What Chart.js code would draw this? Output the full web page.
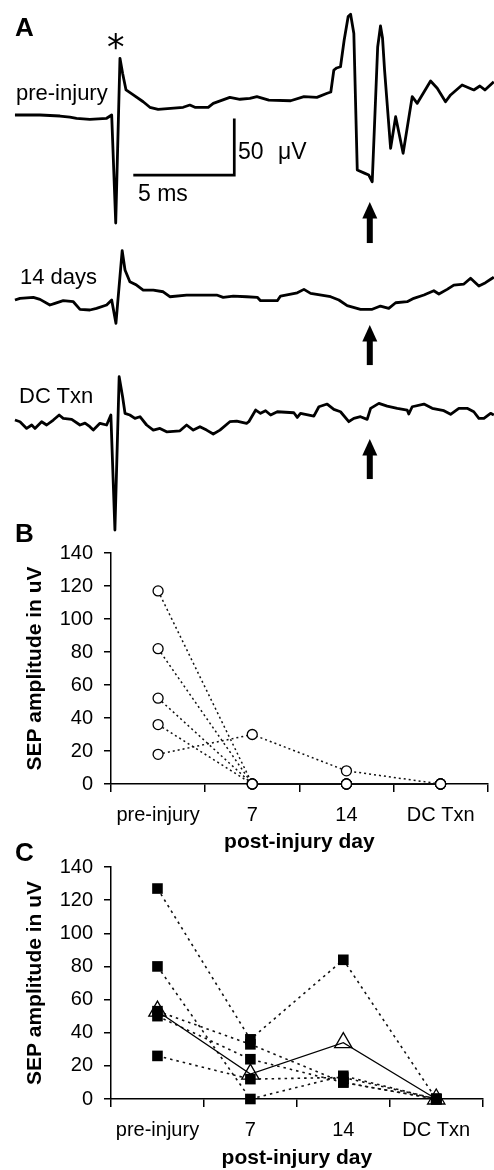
<!DOCTYPE html>
<html><head><meta charset="utf-8">
<script src="https://cdn.jsdelivr.net/npm/chart.js@4.4.1/dist/chart.umd.min.js"></script>
<style>
html,body{margin:0;padding:0;background:#fff;}
#wrap{position:relative;width:494px;height:1170px;overflow:hidden;background:#fff;font-family:'Liberation Sans',Arial,sans-serif;color:#000;}
canvas{position:absolute;left:0;}
.lbl{position:absolute;white-space:nowrap;line-height:1;}
.pl{font-weight:bold;font-size:26px;}
.tr{font-size:22px;}
.sb{font-size:23px;}
</style></head><body>
<div id="wrap">
<canvas id="cA" width="494" height="540" style="top:0;width:494px;height:540px"></canvas>
<canvas id="cB" width="494" height="340" style="top:520px;width:494px;height:340px"></canvas>
<canvas id="cC" width="494" height="330" style="top:840px;width:494px;height:330px"></canvas>
<div class="lbl pl" style="left:15px;top:14px">A</div>
<div class="lbl" style="left:107px;top:30px;font-family:'DejaVu Sans';font-size:35px">*</div>
<div class="lbl tr" style="left:16px;top:82px">pre-injury</div>
<div class="lbl tr" style="left:20px;top:266px">14 days</div>
<div class="lbl tr" style="left:19px;top:385px">DC Txn</div>
<div class="lbl sb" style="left:238px;top:140px;word-spacing:8px">50 μV</div>
<div class="lbl sb" style="left:138px;top:182px">5 ms</div>
<div class="lbl pl" style="left:15px;top:520px">B</div>
<div class="lbl pl" style="left:15px;top:839px">C</div>
</div>
<script>
// ---------- Panel A: evoked traces (time in ms, amplitude in µV) ----------
const PRE_T  = [0,1.24,2.23,2.72,3.05,3.71,4.54,4.79,4.99,5.20,5.33,5.50,5.86,6.35,6.68,7.09,8.33,8.66,8.91,9.57,9.82,10.64,11.14,11.63,11.98,12.57,13.65,14.31,14.95,15.46,15.64,15.79,15.93,16.12,16.30,16.50,16.62,16.78,16.95,17.33,17.52,17.69,17.96,18.10,18.20,18.30,18.60,18.85,19.22,19.67,19.92,20.58,20.91,21.32,21.57,22.14,22.72,23.02,23.27,23.71];
const PRE_UV = [0,0,-0.9,-1.8,-2.9,-3.8,-2.9,0,-95.3,50.0,36.8,22.1,17.7,11.7,6.8,5.0,6.8,8.8,6.8,6.8,10.3,15.6,13.9,14.7,16.2,13.2,12.6,16.2,15.6,19.2,20.3,39.7,41.5,42.6,66,87,89,72,-48.5,-51.5,-53.0,-58.9,60,78.6,68,40,-29.4,-1.5,-33.8,16.2,10.3,30.0,23.6,11.7,17.7,26.5,22.1,25.6,22.1,29.4];

const D14_T  = [0,0.25,0.91,1.24,1.73,1.98,2.39,2.89,3.22,3.71,4.04,4.54,4.79,5.00,5.31,5.45,5.69,6.02,6.35,6.85,7.34,7.67,8.50,9.99,10.31,10.81,11.47,12.00,12.16,12.99,13.15,13.98,14.31,14.64,15.63,16.04,16.45,17.11,17.69,18.10,18.51,18.85,19.42,19.75,20.25,20.74,20.99,21.40,21.73,22.23,22.56,22.97,23.30,23.63,23.71];
const D14_UV = [0,1.5,2.4,0.6,-4.4,-2.9,-0.6,-1.5,-8.2,-8.8,-7.3,-4.4,0,-20.6,43.5,26.5,16.2,13.2,8.8,8.8,7.3,2.9,4.4,4.4,2.4,3.5,2.9,2.4,-0.6,-0.6,3.5,6.4,9.4,5.9,2.9,0,-5.0,-8.2,-8.2,-5.3,-7.3,-2.4,-1.5,1.5,4.4,8.2,5.3,9.4,13.2,14.1,19.2,12.4,15.3,19.2,20.3];

const DC_T  = [0,0.25,0.58,0.83,0.99,1.32,1.57,1.90,2.19,2.39,2.81,3.22,3.47,3.71,3.88,4.21,4.54,4.75,4.95,5.16,5.33,5.45,5.69,5.94,6.19,6.52,6.85,7.18,7.51,8.17,8.50,8.83,9.16,9.49,9.82,10.15,10.64,10.98,11.47,11.58,11.92,12.16,12.41,12.66,12.99,13.81,13.98,14.14,14.80,15.05,15.46,15.79,16.12,16.53,16.78,17.11,17.44,17.61,18.02,18.43,18.93,19.42,19.50,19.67,20.25,20.66,21.24,21.57,21.98,22.39,22.72,22.97,23.22,23.55,23.71];
const DC_UV = [1.8,0.3,-5.6,-2.6,-5.6,0.3,-2.6,1.8,6.2,3.3,2.4,-2.6,-0.9,-4.1,-7.1,-1.1,-2.6,6.2,-95.3,40.0,22.3,7.7,6.2,3.3,4.7,-2.6,-7.1,-5.6,-8.6,-7.7,-2.6,-7.1,-4.1,-7.1,-10.6,-7.1,0.3,0.9,-1.1,0.3,10.6,7.7,10.0,6.2,9.1,8.2,4.1,7.7,5.3,13.5,15.9,11.2,9.1,0.3,3.3,4.7,2.4,12.1,16.5,14.1,12.1,10.6,7.1,13.5,15.9,12.1,10.0,6.8,12.1,12.1,9.1,3.3,3.3,7.7,6.2];

const SCALE_BAR = {t: 10.86, v: -53, ms: 5, uv: 50};
const ARROW_T = 17.57;
const ARROWS = [{axis:'yPre', tip:-76.8, tail:-113}, {axis:'y14', tip:-22.1, tail:-57.4}, {axis:'yDC', tip:-15, tail:-50.3}];

// ---------- Panel B & C: SEP amplitudes (µV) ----------
const DAYS = ['pre-injury','7','14','DC Txn'];
const B_ANIMAL1 = [117,0,0,0];
const B_ANIMAL2 = [82,0,0,0];
const B_ANIMAL3 = [52,0,0,0];
const B_ANIMAL4 = [36,0,0,0];
const B_ANIMAL5 = [18,30,8,0];

const C_ANIMAL1 = [127,36,84,0];
const C_ANIMAL2 = [80,0,14,0];
const C_ANIMAL3 = [53,33,10,0];
const C_ANIMAL4 = [50,24,10,0];
const C_ANIMAL5 = [26,12,13,0];
const C_MEAN    = [53,15,34,0];

const Y_TICK_STEP = 20, Y_MAX = 140;

Chart.defaults.font.family = "'Liberation Sans', Arial, sans-serif";
Chart.defaults.color = '#000';

const pts = (t, v) => t.map((x, i) => ({x, y: v[i]}));

const annotA = {
  id: 'annotA',
  afterDatasetsDraw(chart) {
    const {ctx, scales} = chart;
    const x = scales.x, yp = scales.yPre;
    const xr = x.getPixelForValue(SCALE_BAR.t), xl = x.getPixelForValue(SCALE_BAR.t - SCALE_BAR.ms);
    const yb = yp.getPixelForValue(SCALE_BAR.v), yt = yp.getPixelForValue(SCALE_BAR.v + SCALE_BAR.uv);
    ctx.save();
    ctx.strokeStyle = '#000'; ctx.fillStyle = '#000'; ctx.lineWidth = 2.7; ctx.lineJoin = 'miter';
    ctx.beginPath(); ctx.moveTo(xr, yt); ctx.lineTo(xr, yb); ctx.lineTo(xl, yb); ctx.stroke();
    const ax = x.getPixelForValue(ARROW_T);
    ARROWS.forEach(a => {
      const s = scales[a.axis];
      const tip = s.getPixelForValue(a.tip), tail = s.getPixelForValue(a.tail);
      ctx.fillRect(ax - 3, tip + 14, 6, tail - tip - 14);
      ctx.beginPath(); ctx.moveTo(ax, tip); ctx.lineTo(ax + 7.5, tip + 16.5); ctx.lineTo(ax - 7.5, tip + 16.5); ctx.closePath(); ctx.fill();
    });
    ctx.restore();
  }
};

const traceStyle = {borderColor:'#000', borderWidth:2.8, pointRadius:0, tension:0, fill:false, borderJoinStyle:'round'};
new Chart(document.getElementById('cA'), {
  type: 'line',
  data: {datasets: [
    Object.assign({data: pts(PRE_T, PRE_UV), yAxisID:'yPre'}, traceStyle),
    Object.assign({data: pts(D14_T, D14_UV), yAxisID:'y14'}, traceStyle),
    Object.assign({data: pts(DC_T, DC_UV), yAxisID:'yDC'}, traceStyle)
  ]},
  options: {
    responsive:false, animation:false, devicePixelRatio:1,
    layout:{padding:0},
    plugins:{legend:{display:false}, tooltip:{enabled:false}},
    scales:{
      x:{type:'linear', display:false, min:-0.74, max:23.72},
      yPre:{type:'linear', display:false, min:-375.1, max:101.5},
      y14:{type:'linear', display:false, min:-211.8, max:264.8},
      yDC:{type:'linear', display:false, min:-104.1, max:372.5}
    }
  },
  plugins:[annotA]
});

function makeScales(xHeight, titleBottomPad) {
  const axisLine = {display:true, color:'#000', width:1.5};
  return {
    x: {type:'category', offset:true, afterFit: s => { s.height = xHeight; },
        grid:{offset:true, drawOnChartArea:false, drawTicks:true, tickLength:8, color:'#000', lineWidth:1.5},
        border: axisLine,
        ticks:{font:{size:20}, padding:11.5, color:'#000', maxRotation:0, autoSkip:false},
        title:{display:true, text:'post-injury day', color:'#000', font:{size:21, weight:'bold', lineHeight:1}, padding:{top:0, bottom:titleBottomPad}}},
    y: {type:'linear', min:0, max:Y_MAX, afterFit: s => { s.width = 111; },
        grid:{drawOnChartArea:false, drawTicks:true, tickLength:7, color:'#000', lineWidth:1.5},
        border: axisLine,
        ticks:{stepSize:Y_TICK_STEP, font:{size:20}, padding:11, color:'#000'},
        title:{display:true, text:'SEP amplitude in uV', color:'#000', font:{size:21, weight:'bold', lineHeight:1}, padding:{top:24.5, bottom:0}}}
  };
}

const zeroSolid = {borderDash: ctx => (ctx.p0.parsed.y === 0 && ctx.p1.parsed.y === 0) ? [] : undefined};
const circleStyle = {borderColor:'#111', borderWidth:1.5, borderDash:[2,3], tension:0, fill:false, clip:false,
  pointStyle:'circle', pointRadius:5, pointBorderWidth:1.3, pointBorderColor:'#000', pointBackgroundColor:'#fff', segment: zeroSolid};

new Chart(document.getElementById('cB'), {
  type:'line',
  data:{labels:DAYS, datasets:[B_ANIMAL5,B_ANIMAL1,B_ANIMAL2,B_ANIMAL3,B_ANIMAL4].map(d => Object.assign({data:d}, circleStyle))},
  options:{responsive:false, animation:false, devicePixelRatio:1,
    layout:{padding:{top:33, right:1, left:0, bottom:0}},
    plugins:{legend:{display:false}, tooltip:{enabled:false}},
    scales: makeScales(76, 6.8)}
});

const squareStyle = {borderColor:'#111', borderWidth:1.6, borderDash:[2.5,4], tension:0, fill:false, clip:false,
  pointStyle:'rect', pointRadius:7.5, pointBorderWidth:0, pointBorderColor:'#000', pointBackgroundColor:'#000'};
const meanStyle = {borderColor:'#000', borderWidth:1.3, tension:0, fill:false, clip:false,
  pointStyle:'triangle', pointRadius:10, pointBorderWidth:1.3, pointBorderColor:'#000', pointBackgroundColor:'rgba(255,255,255,0)'};

new Chart(document.getElementById('cC'), {
  type:'line',
  data:{labels:DAYS, datasets:[Object.assign({data:C_MEAN}, meanStyle)].concat(
    [C_ANIMAL1,C_ANIMAL2,C_ANIMAL3,C_ANIMAL4,C_ANIMAL5].map(d => Object.assign({data:d}, squareStyle)))},
  options:{responsive:false, animation:false, devicePixelRatio:1,
    layout:{padding:{top:27, right:1, left:0, bottom:0}},
    plugins:{legend:{display:false}, tooltip:{enabled:false}},
    scales: makeScales(71, 1.5)}
});
</script>
</body></html>
